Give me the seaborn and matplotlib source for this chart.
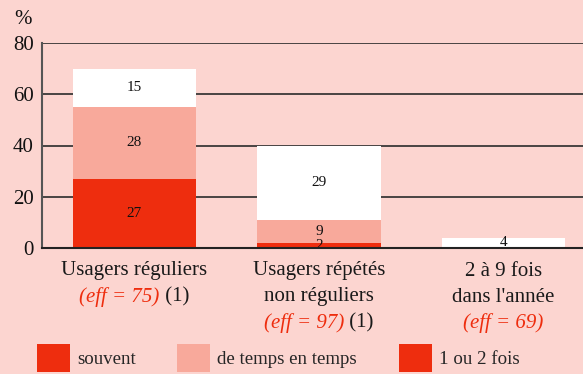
import matplotlib
matplotlib.use("Agg")
import matplotlib.pyplot as plt
import seaborn as sns
import pandas as pd
from matplotlib.patches import Patch

# Data
categories = ["Usagers réguliers", "Usagers répétés non réguliers", "2 à 9 fois dans l'année"]
souvent = [27, 2, 0]
temps_en_temps = [28, 9, 0]
une_deux_fois = [15, 29, 4]
y_ticks = [0, 20, 40, 60, 80]

cat_lines = [
    [[("Usagers réguliers", "k", "normal")],
     [("(eff = 75)", "#EE2D0E", "italic"), (" (1)", "k", "normal")]],
    [[("Usagers répétés", "k", "normal")],
     [("non réguliers", "k", "normal")],
     [("(eff = 97)", "#EE2D0E", "italic"), (" (1)", "k", "normal")]],
    [[("2 à 9 fois", "k", "normal")],
     [("dans l'année", "k", "normal")],
     [("(eff = 69)", "#EE2D0E", "italic")]],
]

BG = "#FCD5D0"
RED = "#EE2D0E"
SALMON = "#F8A99B"
WHITE = "#FFFFFF"

sns.set_theme(style="white")
plt.rcParams["font.family"] = ["Liberation Serif", "DejaVu Serif"]

W, H = 583, 374
fig = plt.figure(figsize=(W / 100, H / 100), dpi=100, facecolor=BG)
ax = fig.add_axes([42 / W, (H - 248) / H, (W - 42) / W, 205 / H])
ax.set_facecolor(BG)

df = pd.DataFrame({
    "cat": categories,
    "s": souvent,
    "t": temps_en_temps,
    "u": une_deux_fois,
})
df["top_total"] = df["s"] + df["t"] + df["u"]
df["mid_total"] = df["s"] + df["t"]

layers = [("top_total", WHITE), ("mid_total", SALMON), ("s", RED)]
for col, colr in layers:
    sns.barplot(data=df, x="cat", y=col, color=colr, width=0.667,
                saturation=1, ax=ax, zorder=2, edgecolor="none", linewidth=0)

# Segment value labels
for i in range(len(categories)):
    bottoms = [0, souvent[i], souvent[i] + temps_en_temps[i]]
    vals = [souvent[i], temps_en_temps[i], une_deux_fois[i]]
    for b, v in zip(bottoms, vals):
        if v > 0:
            ax.text(i, b + v / 2, str(v), ha="center", va="center",
                    fontsize=11, color="#111111", zorder=4)

ax.set_xlim(-0.5, 2.43)
ax.set_ylim(0, 80)
ax.set_yticks(y_ticks)
ax.set_yticklabels([str(t) for t in y_ticks], fontsize=15, color="#111111")
ax.tick_params(axis="y", length=0, pad=6)
ax.set_xticks([])
ax.set_xlabel("")
ax.set_ylabel("")

# Horizontal grid behind bars
for t in y_ticks[1:]:
    ax.axhline(t, color="#2b2b2b", lw=1.2, zorder=1)

for side in ["top", "right"]:
    ax.spines[side].set_visible(False)
ax.spines["left"].set_color("#555555")
ax.spines["left"].set_linewidth(1.5)
ax.spines["bottom"].set_color("#222222")
ax.spines["bottom"].set_linewidth(1.5)
ax.spines["bottom"].set_zorder(5)

fig.text(23 / W, 1 - 19 / H, "%", ha="center", va="center", fontsize=15, color="#111111")

# Category labels with mixed styles
fig.canvas.draw()
renderer = fig.canvas.get_renderer()
line_y = [271, 297, 323]
for i, lines in enumerate(cat_lines):
    cx = ax.transData.transform((i, 0))[0]
    for li, segs in enumerate(lines):
        texts = []
        for s, c, st in segs:
            t = fig.text(0, 1 - line_y[li] / H, s, color=c, style=st,
                         fontsize=15, ha="left", va="center")
            texts.append(t)
        widths = [t.get_window_extent(renderer).width for t in texts]
        x0 = cx - sum(widths) / 2
        for t, w in zip(texts, widths):
            t.set_x(x0 / W)
            x0 += w

# Legend
handles = [Patch(facecolor=RED, edgecolor="none", label="souvent"),
           Patch(facecolor=SALMON, edgecolor="none", label="de temps en temps"),
           Patch(facecolor=RED, edgecolor="none", label="1 ou 2 fois")]
fig.legend(handles=handles, ncol=3, loc="center left",
           bbox_to_anchor=(37 / W, 1 - 358 / H), frameon=False,
           fontsize=13.6, handlelength=1.75, handleheight=1.95,
           handletextpad=0.37, columnspacing=2.2, borderaxespad=0,
           borderpad=0)

fig.savefig("out.png", dpi=100, facecolor=BG)
